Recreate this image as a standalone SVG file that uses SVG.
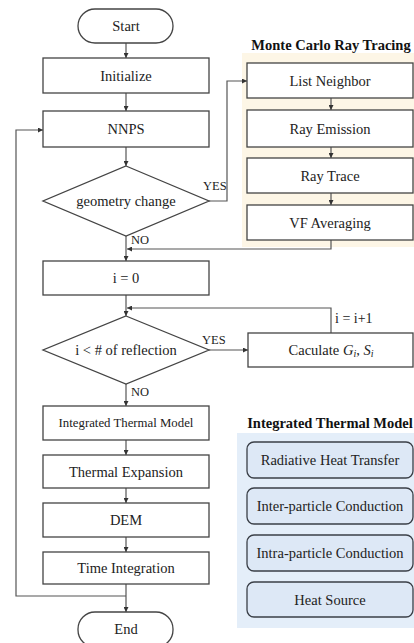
<svg xmlns="http://www.w3.org/2000/svg" width="414" height="643" viewBox="0 0 414 643">
<style>
.box{fill:#ffffff;stroke:#444444;stroke-width:1.3}
.rbox{fill:#dde8f6;stroke:#3a3f47;stroke-width:1.3}
.t{font-family:"Liberation Serif","Times New Roman",serif;font-size:14.5px;fill:#222222;text-anchor:middle;dominant-baseline:central}
.s{font-size:12.8px}
.lbl{font-family:"Liberation Serif","Times New Roman",serif;font-size:12.5px;fill:#222222}
.inc{font-size:14px}
.title{font-family:"Liberation Serif","Times New Roman",serif;font-size:14.5px;font-weight:bold;fill:#111111;text-anchor:middle}
.c{fill:none;stroke:#555555;stroke-width:1.2}
</style>
<defs>
<marker id="ah" viewBox="0 0 10 10" refX="10" refY="5" markerWidth="5" markerHeight="5" orient="auto" markerUnits="userSpaceOnUse">
<path d="M0,0 L10,5 L0,10 z" fill="#333333"/>
</marker>
</defs>
<rect x="242" y="53" width="172" height="194" fill="#fdf6e6"/>
<rect x="237" y="433" width="177" height="195" fill="#e4eef9"/>
<text class="title" x="331" y="50">Monte Carlo Ray Tracing</text>
<text class="title" x="330" y="428">Integrated Thermal Model</text>
<g id="connectors">
<path class="c" d="M126,43 V58" marker-end="url(#ah)"/>
<path class="c" d="M126,93 V111" marker-end="url(#ah)"/>
<path class="c" d="M126,147 V166" marker-end="url(#ah)"/>
<path class="c" d="M209,201 H227 V81 H247" marker-end="url(#ah)"/>
<path class="c" d="M331,98 V110" marker-end="url(#ah)"/>
<path class="c" d="M331,147 V158" marker-end="url(#ah)"/>
<path class="c" d="M331,193 V205" marker-end="url(#ah)"/>
<path class="c" d="M331,240 V249 H127" marker-end="url(#ah)"/>
<path class="c" d="M126,236 V261" marker-end="url(#ah)"/>
<path class="c" d="M126,295 V316" marker-end="url(#ah)"/>
<path class="c" d="M209,350 H248" marker-end="url(#ah)"/>
<path class="c" d="M331,333 V308 H127" marker-end="url(#ah)"/>
<path class="c" d="M126,384 V406" marker-end="url(#ah)"/>
<path class="c" d="M126,440 V455" marker-end="url(#ah)"/>
<path class="c" d="M126,488 V503" marker-end="url(#ah)"/>
<path class="c" d="M126,537 V552" marker-end="url(#ah)"/>
<path class="c" d="M126,584 V612" marker-end="url(#ah)"/>
<path class="c" d="M126,596 H16 V130 H43" marker-end="url(#ah)"/>
<text class="lbl" x="203" y="190">YES</text>
<text class="lbl" x="131" y="244">NO</text>
<text class="lbl" x="202" y="344">YES</text>
<text class="lbl" x="131" y="396">NO</text>
<text class="lbl inc" x="335" y="323">i = i+1</text>
</g>
<g id="start"><rect class="box" x="78" y="9" width="95" height="34" rx="17"/><text class="t" x="126" y="26">Start</text></g>
<g id="initialize"><rect class="box" x="43" y="58" width="166" height="35"/><text class="t" x="126" y="75.5">Initialize</text></g>
<g id="nnps"><rect class="box" x="43" y="111" width="166" height="36"/><text class="t" x="126" y="129">NNPS</text></g>
<g id="geometry-change"><polygon class="box" points="126,166 209,201 126,236 43,201"/><text class="t" x="126" y="201">geometry change</text></g>
<g id="list-neighbor"><rect class="box" x="247" y="63" width="166" height="35"/><text class="t" x="330" y="80.5">List Neighbor</text></g>
<g id="ray-emission"><rect class="box" x="247" y="110" width="166" height="37"/><text class="t" x="330" y="128.5">Ray Emission</text></g>
<g id="ray-trace"><rect class="box" x="247" y="158" width="166" height="35"/><text class="t" x="330" y="175.5">Ray Trace</text></g>
<g id="vf-averaging"><rect class="box" x="247" y="205" width="166" height="35"/><text class="t" x="330" y="222.5">VF Averaging</text></g>
<g id="i-zero"><rect class="box" x="43" y="261" width="166" height="34"/><text class="t" x="126" y="278">i = 0</text></g>
<g id="reflection-check"><polygon class="box" points="126,316 209,350 126,384 43,350"/><text class="t" x="126" y="350">i &lt; # of reflection</text></g>
<g id="calculate"><rect class="box" x="248" y="333" width="165" height="34"/><text class="t" x="331" y="350">Caculate <tspan font-style="italic">G</tspan><tspan font-style="italic" font-size="10px" dy="3">i</tspan><tspan dy="-3">, </tspan><tspan font-style="italic">S</tspan><tspan font-style="italic" font-size="10px" dy="3">i</tspan></text></g>
<g id="integrated-thermal-model"><rect class="box" x="43" y="406" width="166" height="34"/><text class="t s" x="126" y="423">Integrated Thermal Model</text></g>
<g id="thermal-expansion"><rect class="box" x="43" y="455" width="166" height="33"/><text class="t" x="126" y="471.5">Thermal Expansion</text></g>
<g id="dem"><rect class="box" x="43" y="503" width="166" height="34"/><text class="t" x="126" y="520">DEM</text></g>
<g id="time-integration"><rect class="box" x="43" y="552" width="166" height="32"/><text class="t" x="126" y="568">Time Integration</text></g>
<g id="end"><rect class="box" x="78" y="612" width="95" height="35" rx="17"/><text class="t" x="126" y="629">End</text></g>
<g id="radiative"><rect class="rbox" x="247" y="442" width="166" height="36" rx="7"/><text class="t" x="330" y="460">Radiative Heat Transfer</text></g>
<g id="inter-particle"><rect class="rbox" x="247" y="488" width="166" height="36" rx="7"/><text class="t" x="330" y="506">Inter-particle Conduction</text></g>
<g id="intra-particle"><rect class="rbox" x="247" y="535" width="166" height="36" rx="7"/><text class="t" x="330" y="553">Intra-particle Conduction</text></g>
<g id="heat-source"><rect class="rbox" x="247" y="582" width="166" height="35" rx="7"/><text class="t" x="330" y="599.5">Heat Source</text></g>
</svg>
